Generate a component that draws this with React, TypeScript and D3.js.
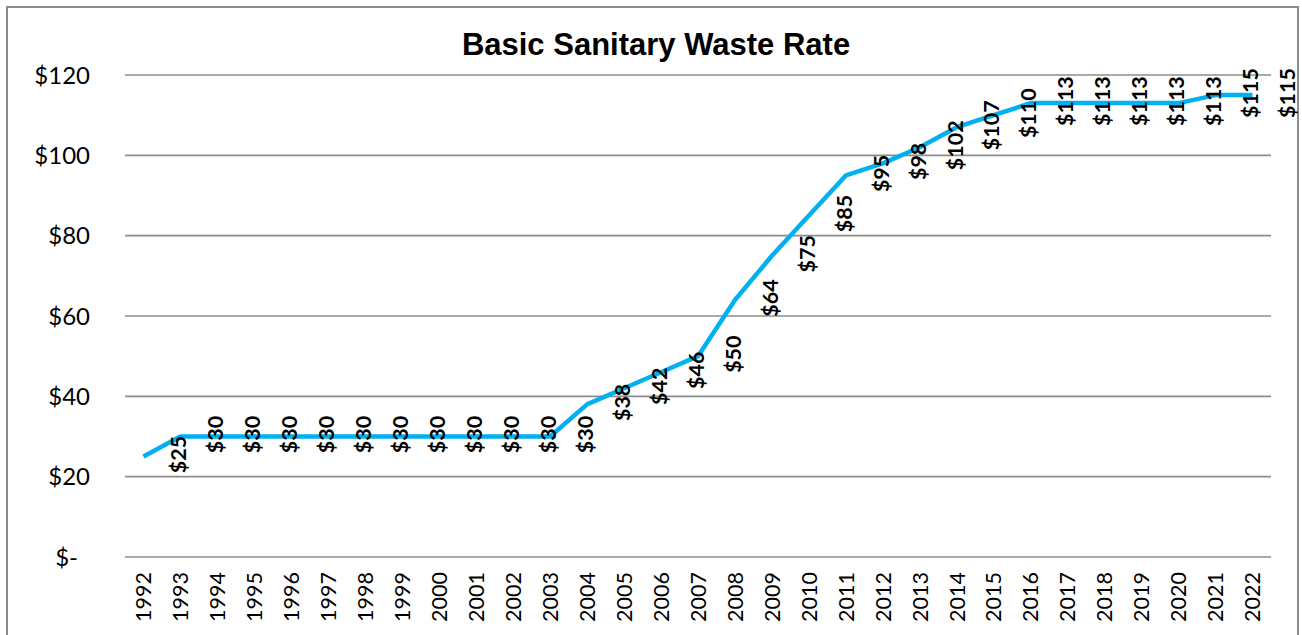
import React from "react";
import * as d3 from "d3";

// chart values
const years = [
  "1992", "1993", "1994", "1995", "1996", "1997", "1998", "1999", "2000", "2001",
  "2002", "2003", "2004", "2005", "2006", "2007", "2008", "2009", "2010", "2011",
  "2012", "2013", "2014", "2015", "2016", "2017", "2018", "2019", "2020", "2021", "2022",
];
const rates = [
  25, 30, 30, 30, 30, 30, 30, 30, 30, 30,
  30, 30, 38, 42, 46, 50, 64, 75, 85, 95,
  98, 102, 107, 110, 113, 113, 113, 113, 113, 115, 115,
];
const yTicks = [0, 20, 40, 60, 80, 100, 120];

const W = 1302;
const H = 635;
const left = 125;
const right = 1271;
const top = 75;
const bottom = 557;

function money(v: number) {
  return v === 0 ? "$-" : "$" + v;
}

export default function App() {
  const x = d3.scaleBand().domain(years).range([left, right]);
  const y = d3.scaleLinear().domain([0, 120]).range([bottom, top]);
  const cx = (i: number) => (x(years[0]) as number) + x.bandwidth() / 2 + i * x.step();

  const line = d3
    .line<number>()
    .x((_, i) => cx(i))
    .y((d) => y(d));

  return (
    <svg width={W} height={H} style={{ position: "absolute", left: 0, top: 0, background: "#fff" }}>
      <rect x={7} y={7} width={1291} height={H} fill="#fff" stroke="#8c8c8c" strokeWidth={2} />
      <text
        x={656}
        y={55}
        textAnchor="middle"
        fontFamily="'Liberation Sans', Arial, sans-serif"
        fontWeight="bold"
        fontSize={31}
      >
        Basic Sanitary Waste Rate
      </text>

      {yTicks.map((t) => (
        <g key={t}>
          <line x1={left} x2={right} y1={y(t)} y2={y(t)} stroke="#8c8c8c" strokeWidth={1.6} />
          <text
            x={t === 0 ? 78 : 90}
            y={y(t)}
            dy="0.36em"
            textAnchor="end"
            fontFamily="Lato, sans-serif"
            fontSize={24}
          >
            {money(t)}
          </text>
        </g>
      ))}

      {years.map((yr, i) => (
        <text
          key={yr}
          transform={`translate(${cx(i)},572) rotate(-90)`}
          dy="0.36em"
          textAnchor="end"
          fontFamily="Lato, sans-serif"
          fontSize={21.5}
        >
          {yr}
        </text>
      ))}

      <path d={line(rates) || ""} fill="none" stroke="#00b0f0" strokeWidth={4.5} strokeLinejoin="round" />

      {/* data labels sit one category to the right of their point, as in the source */}
      {rates.map((v, i) => (
        <text
          key={i}
          transform={`translate(${cx(i + 1) - 2},${y(v) - 2}) rotate(-90)`}
          dy="0.36em"
          textAnchor="middle"
          fontFamily="Lato, sans-serif"
          fontWeight="bold"
          fontSize={21.5}
        >
          {money(v)}
        </text>
      ))}
    </svg>
  );
}
